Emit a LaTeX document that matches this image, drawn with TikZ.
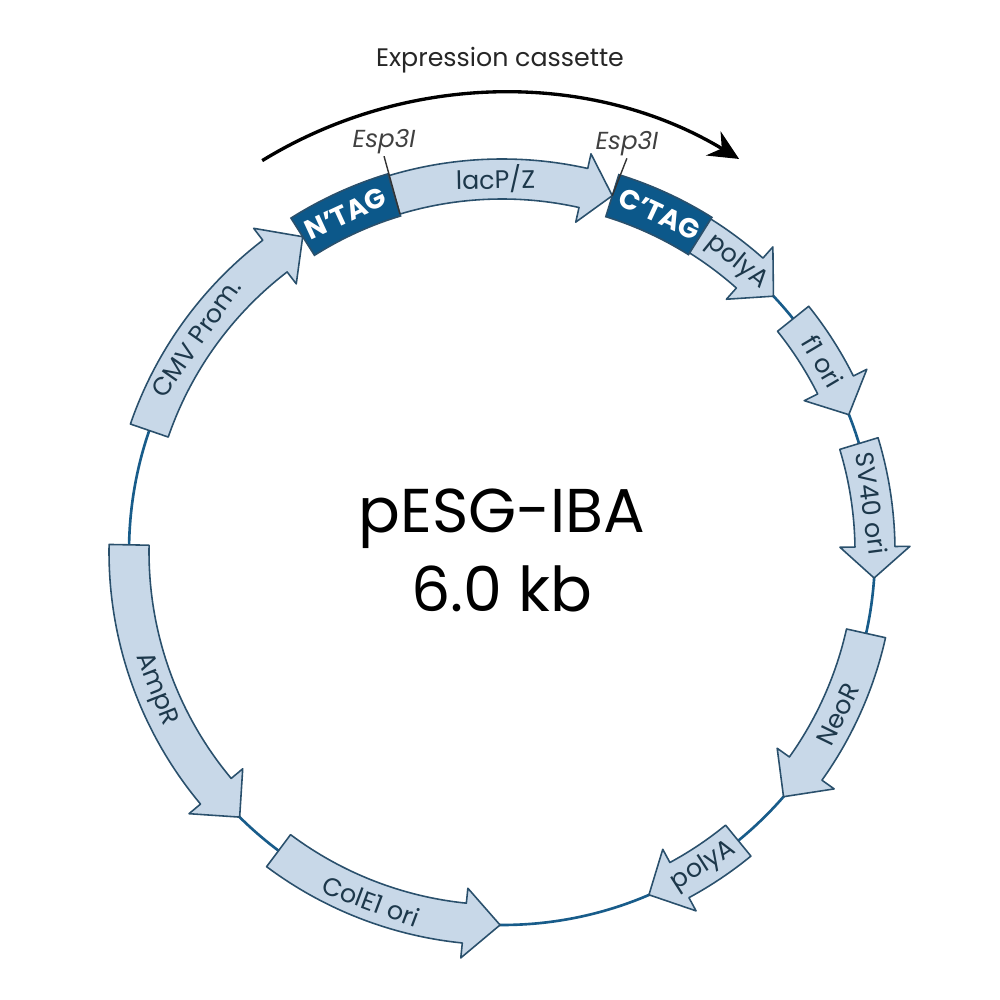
\documentclass[tikz,border=0pt]{standalone}
\usepackage{fontspec}
\setmainfont{Poppins}
\usetikzlibrary{arrows.meta,positioning}
\definecolor{bbone}{RGB}{24,92,138}
\definecolor{featfill}{RGB}{200,216,232}
\definecolor{featline}{RGB}{42,80,108}
\definecolor{tagfill}{RGB}{12,88,138}
\def\rmid{3.73}
\def\rinn{3.53}
\def\rout{3.93}
\def\rhinn{3.38}
\def\rhout{4.08}
% name, start, head base, tip, label angle, label rotation, text
\newcommand{\feature}[7]{%
  \draw[featarrow] (#2:\rinn) arc[start angle=#2, end angle=#3, radius=\rinn]
    -- (#3:\rhinn) -- (#4:\rmid) -- (#3:\rhout) -- (#3:\rout)
    arc[start angle=#3, end angle=#2, radius=\rout] -- cycle;
  \node[featlabel, rotate=#6] (#1) at (#5:\rmid) {#7};
}
% name, start, end, label angle, label rotation, text
\newcommand{\tagpart}[6]{%
  \draw[tagbox] (#2:3.51) arc[start angle=#2, end angle=#3, radius=3.51]
    -- (#3:3.95) arc[start angle=#3, end angle=#2, radius=3.95] -- cycle;
  \node[taglabel, rotate=#5] (#1) at (#4:\rmid) {#6};
}
\begin{document}
\begin{tikzpicture}[x=1cm,y=1cm,
  featarrow/.style={draw=featline, fill=featfill, line width=0.45pt, line join=round},
  featlabel/.style={font=\fontsize{7.2}{8}\selectfont, text=featline!70!black, inner sep=0pt},
  tagbox/.style={draw=featline, fill=tagfill, line width=0.45pt},
  taglabel/.style={font=\bfseries\fontsize{7.8}{9}\selectfont, text=white, inner sep=0pt},
  cutsite/.style={font=\itshape\fontsize{7}{8}\selectfont, text=black!75, inner sep=0.5pt},
  cutline/.style={draw=black!80, line width=0.4pt}]
\useasboundingbox (0,0) rectangle (10,10);
\begin{scope}[shift={(5.02,4.48)}]
\draw[bbone, line width=0.75pt] (0,0) circle[radius=\rmid];

\feature{cmv}{161}{127.5}{122.3}{145}{55}{CMV Prom.}
\tagpart{ntag}{122.3}{106.8}{114.8}{24.8}{N'TAG}
\feature{lacpz}{106.8}{77.4}{72.8}{91}{1}{lacP/Z}
\tagpart{ctag}{72.8}{57.9}{65}{-25}{C'TAG}
\feature{polyaone}{57.9}{48.4}{43.3}{51}{-39}{polyA}
\feature{fone}{38.7}{26.6}{21.6}{30.7}{-59.3}{f1 ori}
\feature{sv}{16.9}{0.8}{-4.0}{7.5}{-82.5}{SV40 ori}
\feature{neo}{-12.6}{-35.5}{-41.0}{-25.8}{64.2}{NeoR}
\feature{polyatwo}{-50.7}{-61.6}{-66.8}{-57.3}{32.7}{polyA}
\feature{cole}{233.2}{264.2}{269.7}{249.5}{-20.5}{ColE1 ori}
\feature{amp}{178.9}{219.9}{225.3}{201.6}{-68.4}{AmpR}

\coordinate (cutone) at (106.8:3.53);
\coordinate (cuttwo) at (72.8:\rmid);
\node[cutsite, anchor=south] (espone) at (106.6:4.13) {Esp3I};
\node[cutsite, anchor=south] (esptwo) at (72.4:4.13) {Esp3I};
\draw[cutline] (cutone) -- (espone.south);
\draw[cutline] (cuttwo) -- (esptwo.south);

\coordinate (cassstart) at (121.5:4.59);
\draw[line width=0.95pt, -{Stealth[length=3mm,width=2.8mm]}]
  (cassstart) arc[start angle=121.5, end angle=58.9, radius=4.59];
\node[font=\fontsize{7.2}{8}\selectfont, text=black!85] (cassette) at (-0.02,4.92) {Expression cassette};

\node[font=\fontsize{17.6}{20}\selectfont, anchor=base] (plasmid) at (0,0.19) {pESG-IBA};
\node[font=\fontsize{17.6}{20}\selectfont, anchor=base] (size) at (0,-0.60) {6.0 kb};
\end{scope}
\end{tikzpicture}
\end{document}
